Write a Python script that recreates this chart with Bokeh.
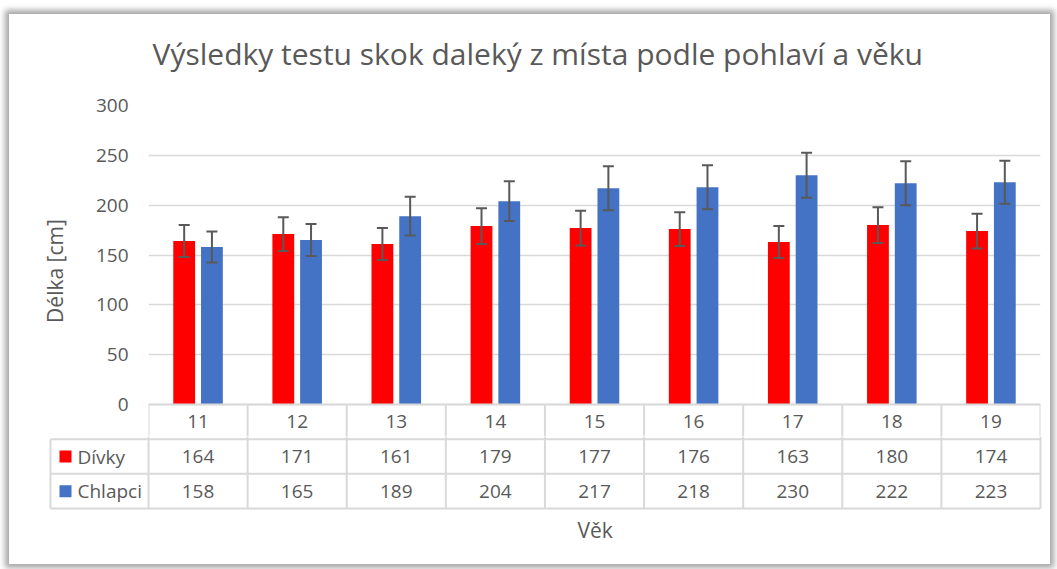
from bokeh.plotting import figure
from bokeh.models import (FactorRange, Range1d, FixedTicker, Whisker, TeeHead,
                          ColumnDataSource)
from bokeh.transform import dodge
from bokeh.layouts import column
from bokeh.embed import file_html
from bokeh.resources import INLINE
from bokeh.core.properties import value

# ---- data ----
ages = ["11", "12", "13", "14", "15", "16", "17", "18", "19"]
divky = [164, 171, 161, 179, 177, 176, 163, 180, 174]
chlapci = [158, 165, 189, 204, 217, 218, 230, 222, 223]
divky_err = [16, 17, 16, 18, 17.5, 17, 16, 18, 17.5]
chlapci_err = [15.5, 16, 19.5, 20, 22, 22, 22.5, 22, 21.5]
series_names = ["Dívky", "Chlapci"]
y_ticks = [0, 50, 100, 150, 200, 250, 300]

title_text = "Výsledky testu skok daleký z místa podle pohlaví a věku"
y_title = "Délka [cm]"
x_title = "Věk"

# ---- styles ----
RED = "#FF0000"
BLUE = "#4472C4"
TXT = "#595959"
GRID = "#d9d9d9"
FONT = "Open Sans"
colors = [RED, BLUE]

src = ColumnDataSource(dict(
    age=ages, divky=divky, chlapci=chlapci,
    d_lo=[v - e for v, e in zip(divky, divky_err)],
    d_hi=[v + e for v, e in zip(divky, divky_err)],
    c_lo=[v - e for v, e in zip(chlapci, chlapci_err)],
    c_hi=[v + e for v, e in zip(chlapci, chlapci_err)],
))

n = len(ages)
OX, OY = 9, 14              # chart area origin on the page
W = 1041
FRAME_L, FRAME_R = 148, 1040
Y0_PX, Y300_PX = 404, 105   # pixel rows of 0 and 300
S = (Y0_PX - Y300_PX) / 300  # px per unit
ROW = 34.67                 # table row height px
TOP_SPLIT = 85              # page row where title strip ends
SPLIT = 436                 # page row where chart and table rows meet
PX_PER_CAT = (FRAME_R - FRAME_L) / n
TITLE_MID = 53              # page row of the title's middle

common_fig = dict(output_backend="svg", toolbar_location=None,
                  x_axis_location=None, y_axis_location=None)

# ---- title strip ----
TSH = TOP_SPLIT - OY
tt = figure(width=W, height=TSH, x_range=Range1d(0, W), y_range=Range1d(0, TSH),
            min_border_left=0, min_border_right=0, min_border_top=0, min_border_bottom=0,
            **common_fig)
tt.frame_align = False
tt.outline_line_color = None
tt.grid.visible = False
tt.text(x=[152 - OX], y=[TSH - (TITLE_MID - OY)], text=[title_text], text_align="left",
        text_baseline="middle", text_font=value(FONT), text_font_size="30px",
        text_color=TXT)

# ---- main chart ----
y_min = -(SPLIT - Y0_PX) / S
p = figure(width=W, height=SPLIT - TOP_SPLIT, x_range=FactorRange(*ages),
           y_range=Range1d(y_min, 300),
           output_backend="svg", toolbar_location=None, x_axis_location=None,
           min_border_left=FRAME_L - OX, min_border_right=OX + W - FRAME_R,
           min_border_top=Y300_PX - TOP_SPLIT, min_border_bottom=0)
p.frame_align = False
p.outline_line_color = None
p.xgrid.visible = False
p.ygrid.grid_line_color = GRID
p.ygrid.grid_line_width = 1.5
p.ygrid.ticker = FixedTicker(ticks=y_ticks)

ax = p.yaxis[0]
ax.ticker = FixedTicker(ticks=y_ticks)
ax.axis_line_color = None
ax.major_tick_line_color = None
ax.minor_tick_line_color = None
ax.major_tick_out = 0
ax.major_tick_in = 0
ax.major_label_standoff = 20
ax.major_label_text_font = FONT
ax.major_label_text_font_size = "19px"
ax.major_label_text_color = TXT
ax.axis_label = y_title
ax.axis_label_text_font = FONT
ax.axis_label_text_font_size = "21px"
ax.axis_label_text_font_style = "normal"
ax.axis_label_text_color = TXT
ax.axis_label_standoff = 24

OFF = 0.14
BW = 0.22
p.vbar(x=dodge("age", -OFF, range=p.x_range), top="divky", width=BW, bottom=0,
       source=src, fill_color=RED, line_color=None)
p.vbar(x=dodge("age", OFF, range=p.x_range), top="chlapci", width=BW, bottom=0,
       source=src, fill_color=BLUE, line_color=None)

for off, lo, hi in [(-OFF, "d_lo", "d_hi"), (OFF, "c_lo", "c_hi")]:
    w = Whisker(source=src, base=dodge("age", off, range=p.x_range), lower=lo, upper=hi,
                line_color=TXT, line_width=2, level="overlay",
                upper_head=TeeHead(size=11, line_color=TXT, line_width=2),
                lower_head=TeeHead(size=11, line_color=TXT, line_width=2))
    p.add_layout(w)

# category row of the data table (inside the main figure, below 0)
vx = list(range(n + 1))
p.segment(x0=vx, y0=[0] * (n + 1), x1=vx, y1=[y_min] * (n + 1),
          line_color=GRID, line_width=2)
p.segment(x0=[0], y0=[0], x1=[n], y1=[0], line_color=GRID, line_width=2)
common = dict(text_align="center", text_baseline="middle", text_font=value(FONT),
              text_font_size="19px", text_color=TXT)
p.text(x=ages, y=[-(ROW / 2) / S] * n, text=ages, **common)

# ---- rows of the data table ----
leg_w = (FRAME_L - 50) / PX_PER_CAT
fl, fr = 48, 1042
x0 = -(FRAME_L - fl) / PX_PER_CAT
x1 = n + (fr - FRAME_R) / PX_PER_CAT
row2_top = Y0_PX + ROW
y_top = 2 + (row2_top - SPLIT) / ROW
fb = int(round(Y0_PX + 3 * ROW + 2))
y_bot = -(fb - (Y0_PX + 3 * ROW)) / ROW
TH = 564 - SPLIT

t = figure(width=W, height=TH, x_range=Range1d(x0, x1), y_range=Range1d(y_bot, y_top),
           title_location="below",
           min_border_left=fl - OX, min_border_right=OX + W - fr, min_border_top=0,
           min_border_bottom=TH - (fb - SPLIT), **common_fig)
t.frame_align = False
t.outline_line_color = None
t.grid.visible = False

sx0, sy0, sx1, sy1 = [], [], [], []
for yy in [2, 1, 0]:
    sx0.append(-leg_w); sy0.append(yy); sx1.append(n); sy1.append(yy)
for i in range(n + 1):
    sx0.append(i); sy0.append(0); sx1.append(i); sy1.append(y_top)
sx0.append(-leg_w); sy0.append(0); sx1.append(-leg_w); sy1.append(2)
t.segment(x0=sx0, y0=sy0, x1=sx1, y1=sy1, line_color=GRID, line_width=2)

cx = [i + 0.5 for i in range(n)]
t.text(x=cx, y=[1.5] * n, text=[str(v) for v in divky], **common)
t.text(x=cx, y=[0.5] * n, text=[str(v) for v in chlapci], **common)

sq_x = -leg_w + 15 / PX_PER_CAT
t.rect(x=[sq_x, sq_x], y=[1.5, 0.5], width=12, height=12, width_units="screen",
       height_units="screen", fill_color=colors, line_color=None)
t.text(x=[-leg_w + 27 / PX_PER_CAT] * 2, y=[1.5, 0.5], text=series_names,
       text_align="left", text_baseline="middle", text_font=value(FONT),
       text_font_size="19px", text_color=TXT)

t.title.text = x_title
t.title.align = "left"
t.title.offset = 577 - fl
t.title.text_font = FONT
t.title.text_font_size = "21px"
t.title.text_font_style = "normal"
t.title.text_color = TXT
t.title.standoff = 6

layout = column(tt, p, t, spacing=0,
                styles={"margin-left": f"{OX}px", "margin-top": f"{OY}px",
                        "box-shadow": "0px 0px 6px 4px #a6a6a6"})

open("out.html", "w").write(file_html(layout, INLINE))
